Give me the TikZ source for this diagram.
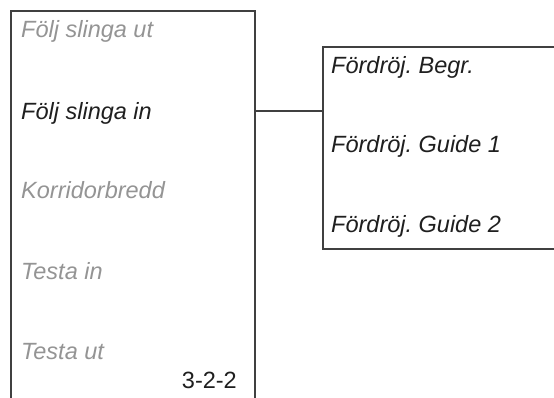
\documentclass[tikz,border=0pt]{standalone}
\usepackage{fontspec}
\setmainfont{Liberation Sans}
\frenchspacing
\begin{document}
\begin{tikzpicture}[x=1pt,y=-1pt,
  frame/.style={draw=black!75, line width=1.1pt},
  item/.style={anchor=base west, inner sep=0pt, font=\fontsize{23.5}{28}\selectfont\itshape},
  dim/.style={item, text=black!42},
  act/.style={item, text=black!88}]
\useasboundingbox (0,0) rectangle (554,398);
\coordinate (lb) at (11,400);
\coordinate (lt) at (11,11);
\coordinate (rt) at (255,11);
\coordinate (rb) at (255,400);
\draw[frame] (lb) -- (lt) -- (rt) -- (rb);
\coordinate (sb) at (560,249);
\coordinate (sbl) at (323,249);
\coordinate (stl) at (323,47);
\coordinate (st) at (560,47);
\draw[frame] (st) -- (stl) -- (sbl) -- (sb);
\coordinate (ca) at (255,111);
\coordinate (cb) at (323,111);
\draw[frame] (ca) -- (cb);
\node[dim] (a1) at (21,38) {Följ slinga ut};
\node[act] (a2) at (21,120) {Följ slinga in};
\node[dim] (a3) at (21,199) {Korridorbredd};
\node[dim] (a4) at (21,279) {Testa in};
\node[dim] (a5) at (21,359) {Testa ut};
\node[anchor=base east, inner sep=0pt, font=\fontsize{23.5}{28}\selectfont, text=black!88] (num) at (237,388) {3-2-2};
\node[act] (b1) at (331,74) {Fördröj. Begr.};
\node[act] (b2) at (331,153) {Fördröj. Guide 1};
\node[act] (b3) at (331,233) {Fördröj. Guide 2};
\end{tikzpicture}
\end{document}
